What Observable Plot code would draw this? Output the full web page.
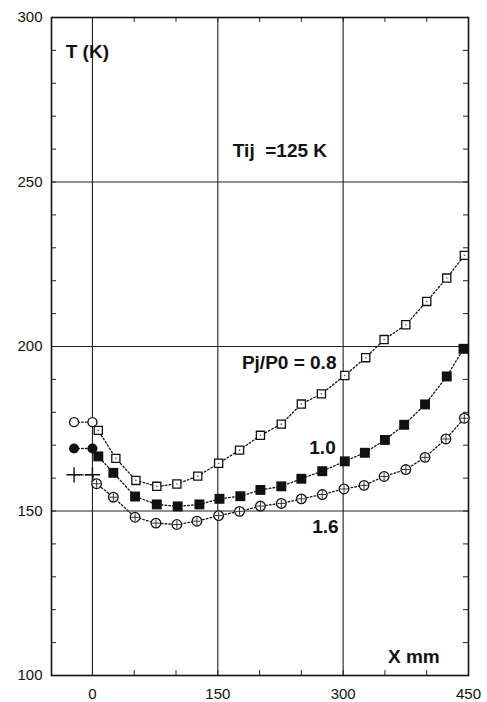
<!DOCTYPE html>
<html>
<head>
<meta charset="utf-8">
<script src="https://cdn.jsdelivr.net/npm/d3@7"></script>
<script src="https://cdn.jsdelivr.net/npm/@observablehq/plot@0.6"></script>
<style>
  html, body { margin: 0; padding: 0; background: #fff; }
  #chart svg { display: block; }
</style>
</head>
<body>
<div id="chart"></div>
<script>
// Leading points (upstream of the nozzle)
const xLead = [-22, 0];
const TLead08 = [177, 177];
const TLead10 = [169, 169];
const TLead16 = [161, 161];

// Pj/P0 = 0.8 (open squares)
const x08 = [7, 28, 52, 77, 101, 126, 151, 176, 201, 226, 250, 274, 302, 327, 349, 375, 400, 424, 445];
const T08 = [174.5, 166, 159.3, 157.5, 158.2, 160.6, 164.5, 168.5, 173, 176.4, 182.5, 185.6, 191.2, 196.6, 202.1, 206.6, 213.7, 220.8, 227.7];

// Pj/P0 = 1.0 (filled squares)
const x10 = [7, 25, 51, 77, 102, 128, 152, 177, 201, 226, 250, 275, 302, 326, 350, 373, 398, 424, 444];
const T10 = [166.6, 161.6, 154.4, 152, 151.4, 152, 153.7, 154.5, 156.4, 157.5, 159.8, 162.1, 165.1, 167.7, 171.6, 176.2, 182.4, 190.9, 199.3];

// Pj/P0 = 1.6 (crossed circles)
const x16 = [5, 25, 51, 76, 101, 125, 151, 176, 201, 226, 250, 275, 301, 325, 349, 375, 398, 423, 445];
const T16 = [158.3, 154.2, 148.1, 146.3, 145.9, 146.9, 148.6, 149.9, 151.5, 152.3, 153.7, 155, 156.7, 157.8, 160.5, 162.6, 166.3, 171.9, 178.2];

const xTicks = [0, 150, 300, 450];
const yTicks = [100, 150, 200, 250, 300];
const xGrid = [0, 150, 300];
const yGrid = [150, 200, 250];
const xMinor = [0, 50, 100, 150, 200, 250, 300, 350, 400];
const yMinor = d3.range(110, 300, 10);

const labels = [
  {x: -32, y: 289.4, text: "T (K)", anchor: "start"},
  {x: 168, y: 259.3, text: "Tij\u00a0\u00a0=125 K", anchor: "start"},
  {x: 292, y: 195.1, text: "Pj/P0 = 0.8", anchor: "end"},
  {x: 259.5, y: 169.3, text: "1.0", anchor: "start"},
  {x: 263, y: 145.3, text: "1.6", anchor: "start"},
  {x: 353.6, y: 105.8, text: "X mm", anchor: "start"}
];

const pts = (xs, ts) => xs.map((x, i) => ({x, T: ts[i]}));
const line08 = pts(xLead.concat(x08), TLead08.concat(T08));
const line10 = pts(xLead.concat(x10), TLead10.concat(T10));
const line16 = pts(xLead.concat(x16), TLead16.concat(T16));

const xMin = -49, xMax = 450, yMin = 100, yMax = 300;
const dotted = {x: "x", y: "T", stroke: "#111", strokeWidth: 1.3, strokeDasharray: "1.6,2.2"};

const chart = Plot.plot({
  width: 487,
  height: 702,
  marginLeft: 51,
  marginRight: 19,
  marginTop: 17,
  marginBottom: 27,
  style: {fontFamily: "'Liberation Sans', Arial, sans-serif", fontSize: "15px", color: "#111", background: "#fff", overflow: "visible"},
  x: {domain: [xMin, xMax], label: null},
  y: {domain: [yMin, yMax], label: null},
  marks: [
    // grid
    Plot.ruleX(xGrid, {stroke: "#222", strokeWidth: 1.1}),
    Plot.ruleY(yGrid, {stroke: "#222", strokeWidth: 1.1}),
    // inward minor ticks
    Plot.ruleX(xMinor, {y1: yMin, y2: yMin + 1.5, stroke: "#222"}),
    Plot.ruleX(xMinor, {y1: yMax, y2: yMax - 1.5, stroke: "#222"}),
    Plot.ruleY(yMinor, {x1: xMin, x2: xMin + 6, stroke: "#222"}),
    Plot.ruleY(yMinor, {x1: xMax, x2: xMax - 6, stroke: "#222"}),
    Plot.frame({stroke: "#111", strokeWidth: 1.6}),
    // axes
    Plot.axisX(xTicks, {tickSize: 0, tickPadding: 13, fontSize: 15, label: null}),
    Plot.axisY(yTicks, {tickSize: 0, tickPadding: 9, fontSize: 15, label: null}),
    // dotted connecting lines
    Plot.line(line08, dotted),
    Plot.line(line10, dotted),
    Plot.line(line16, dotted),
    // leading markers
    Plot.dot(pts(xLead, TLead08), {x: "x", y: "T", r: 4.5, stroke: "#111", strokeWidth: 1.4, fill: "#fff"}),
    Plot.dot(pts(xLead, TLead10), {x: "x", y: "T", r: 5, fill: "#111", stroke: "none"}),
    Plot.dot(pts(xLead, TLead16), {x: "x", y: "T", r: 5, symbol: "plus", stroke: "#111", strokeWidth: 1.4}),
    // main markers
    Plot.dot(pts(x08, T08), {x: "x", y: "T", r: 4.6, symbol: "square", stroke: "#111", strokeWidth: 1.3, fill: "#fff"}),
    Plot.dot(pts(x08, T08), {x: "x", y: "T", r: 0.8, fill: "#555"}),
    Plot.dot(pts(x10, T10), {x: "x", y: "T", r: 5.6, symbol: "square", fill: "#111", stroke: "none"}),
    Plot.dot(pts(x16, T16), {x: "x", y: "T", r: 4.8, stroke: "#111", strokeWidth: 1.3, fill: "#fff"}),
    Plot.dot(pts(x16, T16), {x: "x", y: "T", r: 2.6, symbol: "plus", stroke: "#333", strokeWidth: 1}),
    // annotations
    Plot.text(labels.filter(d => d.anchor === "start"), {x: "x", y: "y", text: "text", textAnchor: "start", fontSize: 19, fontWeight: "bold", fill: "#111"}),
    Plot.text(labels.filter(d => d.anchor === "end"), {x: "x", y: "y", text: "text", textAnchor: "end", fontSize: 19, fontWeight: "bold", fill: "#111"})
  ]
});
document.getElementById("chart").appendChild(chart);
</script>
</body>
</html>
